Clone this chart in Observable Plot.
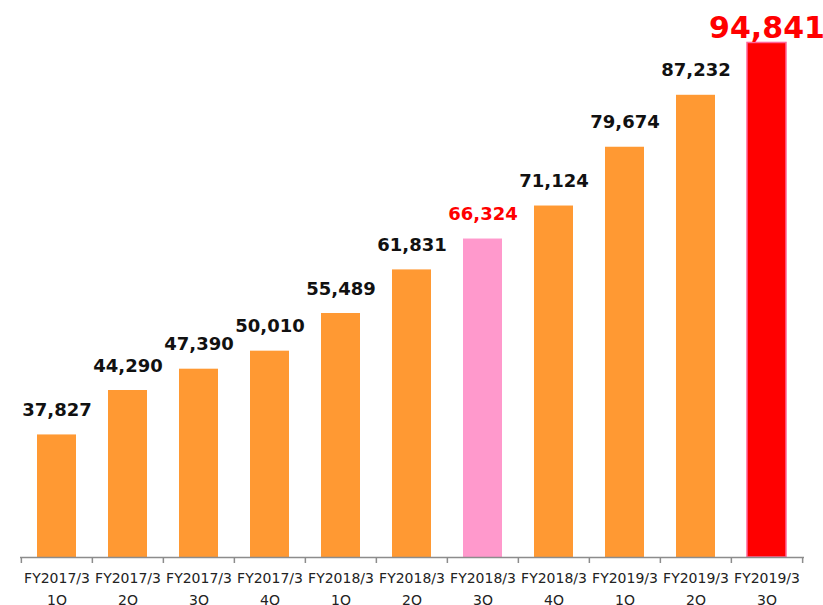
<!DOCTYPE html>
<html>
<head>
<meta charset="utf-8">
<script src="https://cdn.jsdelivr.net/npm/d3@7"></script>
<script src="https://cdn.jsdelivr.net/npm/@observablehq/plot@0.6"></script>
<style>
  html, body { margin: 0; padding: 0; background: #fff; }
  #chart svg { display: block; }
</style>
</head>
<body>
<div id="chart"></div>
<script>
const fiscalYears = ["FY2017/3","FY2017/3","FY2017/3","FY2017/3","FY2018/3","FY2018/3","FY2018/3","FY2018/3","FY2019/3","FY2019/3","FY2019/3"];
const quarters = ["1Q","2Q","3Q","4Q","1Q","2Q","3Q","4Q","1Q","2Q","3Q"];
const values = [37827, 44290, 47390, 50010, 55489, 61831, 66324, 71124, 79674, 87232, 94841];

const n = values.length;
const data = values.map((v, i) => ({i, v, fy: fiscalYears[i], q: quarters[i]}));
const prevYearIdx = 6, currentIdx = n - 1;

const W = 823, H = 605, mL = 20, mR = 19, mT = 7, mB = 48;
const step = (W - mL - mR) / n;
const yBase = 20000, yTop = 100000;
const tickPx = 6;
const tickLenValue = tickPx * (yTop - yBase) / (H - mT - mB);

const barFill = d => d.i === currentIdx ? "#ff0000" : d.i === prevYearIdx ? "#ff99cc" : "#ff9933";
const labelFill = d => (d.i === currentIdx || d.i === prevYearIdx) ? "#ff0000" : "#111";
const fmt = d3.format(",");

const tickIdx = d3.range(n);

const chart = Plot.plot({
  width: W, height: H,
  marginLeft: mL, marginRight: mR, marginTop: mT, marginBottom: mB,
  x: {type: "band", domain: d3.range(n), paddingInner: 0.45, paddingOuter: 0.225, axis: null},
  y: {domain: [yBase, yTop], axis: null},
  style: {fontFamily: "'DejaVu Sans', Verdana, sans-serif", background: "#fff"},
  marks: [
    Plot.barY(data, {x: "i", y1: yBase, y2: "v", fill: barFill,
      stroke: d => d.i === currentIdx ? "#ff6699" : "none", strokeWidth: 1.5}),
    Plot.ruleY([yBase], {stroke: "#8c8c8c", strokeWidth: 1.5}),
    Plot.ruleX(tickIdx, {x: d => d, y1: yBase, y2: yBase - tickLenValue, dx: -step / 2, stroke: "#8c8c8c", strokeWidth: 1.5}),
    Plot.ruleX([n - 1], {x: d => d, y1: yBase, y2: yBase - tickLenValue, dx: step / 2, stroke: "#8c8c8c", strokeWidth: 1.5}),
    Plot.axisX({tickSize: 0, tickPadding: 10, fontSize: 14, lineHeight: 1.55, fill: "#222", label: null,
      tickFormat: i => fiscalYears[i] + "\n" + quarters[i]}),
    Plot.text(data.filter(d => d.i !== currentIdx), {x: "i", y: "v", text: d => fmt(d.v),
      lineAnchor: "bottom", dy: -19, fontSize: 18, fontWeight: "bold", fill: labelFill}),
    Plot.text(data.filter(d => d.i === currentIdx), {x: "i", y: "v", text: d => fmt(d.v),
      lineAnchor: "bottom", dy: -5, fontSize: 30, fontWeight: "bold", fill: labelFill})
  ]
});
document.getElementById("chart").append(chart);
</script>
</body>
</html>
